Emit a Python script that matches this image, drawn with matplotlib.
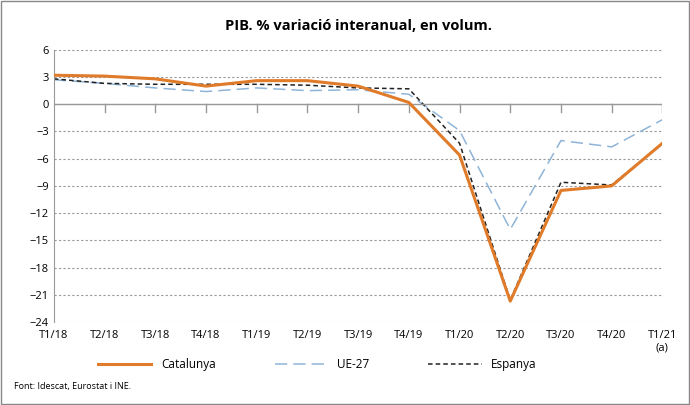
import matplotlib.pyplot as plt

quarters = ["T1/18", "T2/18", "T3/18", "T4/18", "T1/19", "T2/19", "T3/19",
            "T4/19", "T1/20", "T2/20", "T3/20", "T4/20", "T1/21\n(a)"]
catalunya = [3.2, 3.1, 2.8, 2.0, 2.6, 2.6, 2.0, 0.2, -5.6, -21.7, -9.5, -9.0, -4.3]
ue27 = [2.7, 2.3, 1.8, 1.4, 1.8, 1.5, 1.6, 1.1, -2.9, -13.8, -4.0, -4.7, -1.7]
espanya = [2.8, 2.3, 2.2, 2.2, 2.2, 2.1, 1.8, 1.7, -4.3, -21.6, -8.6, -8.9, -4.3]

plt.rcParams["font.family"] = ["Open Sans", "DejaVu Sans"]
fig = plt.figure(figsize=(6.9, 4.05), dpi=100)
ax = fig.add_axes([0.078, 0.205, 0.882, 0.672])
x = list(range(len(quarters)))

ax.plot(x, ue27, color="#8fb4d8", lw=1.1, dashes=(8, 4), label="UE-27")
ax.plot(x, espanya, color="#222222", lw=1.1, dashes=(3, 2), label="Espanya")
ax.plot(x, catalunya, color="#e07b2a", lw=2.2, label="Catalunya", zorder=3)

ax.set_xlim(0, len(quarters) - 1)
ax.set_ylim(-24, 6)
ax.set_yticks(range(-24, 7, 3))
ax.set_xticks(x)
ax.set_xticklabels(quarters, fontsize=8)
ax.tick_params(axis="y", labelsize=8, length=0)
ax.tick_params(axis="x", length=0, pad=6)
for s in ["top", "right", "bottom"]:
    ax.spines[s].set_visible(False)
ax.spines["left"].set_color("#999999")
ax.yaxis.grid(True, linestyle=(0, (2, 2)), color="#999999", lw=0.8)
ax.axhline(0, color="#999999", lw=1)
for xi in x[1:]:
    ax.plot([xi, xi], [0, -0.9], color="#999999", lw=1)

ax.set_title("PIB. % variació interanual, en volum.", fontsize=10.5,
             fontweight="bold", pad=14)

h, l = ax.get_legend_handles_labels()
order = [2, 0, 1]
fig.legend([h[i] for i in order], [l[i] for i in order], loc="center",
           bbox_to_anchor=(0.46, 0.1), ncol=3, frameon=False, fontsize=8.5,
           handlelength=4.5, columnspacing=5)
fig.text(0.02, 0.04, "Font: Idescat, Eurostat i INE.", fontsize=6.5)
fig.patches.append(plt.Rectangle((0.002, 0.002), 0.996, 0.996, fill=False,
                                 edgecolor="#888888", lw=1,
                                 transform=fig.transFigure))
fig.savefig("out.png", dpi=100)
